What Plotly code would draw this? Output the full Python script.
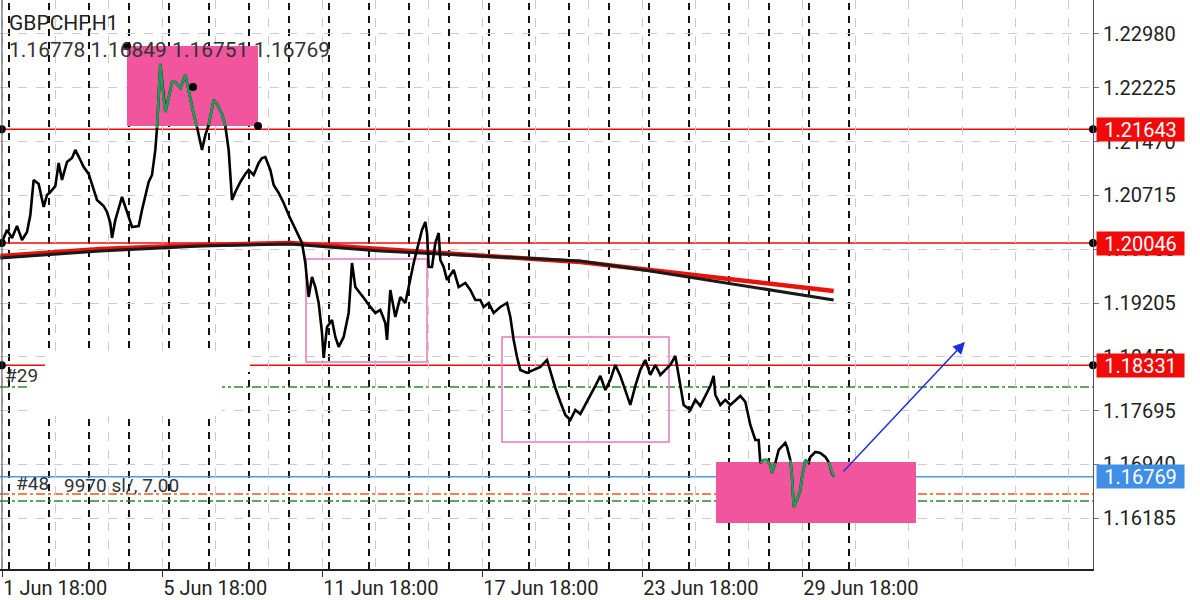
import plotly.graph_objects as go

# ---------------- data ----------------
symbol = "GBPCHF,H1"
ohlc_text = "1.16778 1.16849 1.16751 1.16769"

# (hour index of trading time since 1 Jun 00:00, close price)
price_path = [
    (18, 1.20062), (21, 1.20230), (24, 1.20118), (27, 1.20286), (30, 1.20090),
    (33, 1.20202), (35, 1.20441), (37, 1.20932), (40, 1.20876), (43, 1.20553),
    (45, 1.20721), (47, 1.20763), (50, 1.20847), (52, 1.21170), (54, 1.20932),
    (57, 1.21184), (60, 1.21240), (62, 1.21353), (65, 1.21212), (67, 1.21114),
    (70, 1.21016), (72, 1.20876), (75, 1.20651), (79, 1.20567), (81, 1.20483),
    (83, 1.20328), (84, 1.20118), (86, 1.20370), (90, 1.20693), (93, 1.20483),
    (96, 1.20272), (100, 1.20286), (102, 1.20511), (106, 1.20904), (108, 1.21002),
    (110, 1.21353), (111, 1.21661), (113, 1.22559), (115, 1.22054), (116, 1.21886),
    (119, 1.22194), (120, 1.22307), (122, 1.22307), (125, 1.22222), (128, 1.22405),
    (130, 1.22166), (133, 1.21858), (135, 1.21675), (137, 1.21423), (138, 1.21353),
    (140, 1.21563), (142, 1.21703), (145, 1.22054), (147, 1.21998), (150, 1.21858),
    (152, 1.21689), (154, 1.21353), (156, 1.20651), (158, 1.20763), (161, 1.20904),
    (164, 1.21016), (166, 1.21072), (169, 1.21002), (172, 1.21170), (174, 1.21240),
    (176, 1.21254), (179, 1.21072), (181, 1.20861), (184, 1.20749), (187, 1.20609),
    (190, 1.20441), (192, 1.20342), (195, 1.20202), (198, 1.20048), (200, 1.19767),
    (202, 1.19290), (204, 1.19571), (206, 1.19430), (208, 1.19206), (210, 1.18785),
    (211, 1.18434), (213, 1.18869), (216, 1.18967), (218, 1.18729), (220, 1.18589),
    (223, 1.18729), (226, 1.19066), (228, 1.19767), (230, 1.19430), (233, 1.19346),
    (236, 1.19248), (239, 1.19150), (242, 1.19066), (245, 1.19108), (248, 1.18925),
    (249, 1.18687), (251, 1.19388), (254, 1.19010), (257, 1.19290), (260, 1.19206),
    (263, 1.19571), (265, 1.19767), (268, 1.20048), (270, 1.20230), (272, 1.20342),
    (273, 1.20188), (274, 1.19711), (276, 1.19711), (278, 1.20048), (280, 1.20188),
    (281, 1.19809), (283, 1.19711), (285, 1.19529), (289, 1.19669), (292, 1.19430),
    (296, 1.19487), (299, 1.19388), (302, 1.19248), (305, 1.19248), (307, 1.19150),
    (310, 1.19206), (313, 1.19066), (317, 1.19150), (321, 1.19206), (323, 1.19010),
    (325, 1.18687), (327, 1.18448), (329, 1.18266), (333, 1.18224), (337, 1.18266),
    (341, 1.18308), (345, 1.18406), (348, 1.18168), (350, 1.18013), (353, 1.17817),
    (356, 1.17635), (359, 1.17564), (362, 1.17705), (365, 1.17649), (368, 1.17775),
    (371, 1.17901), (374, 1.18041), (377, 1.18182), (380, 1.17985), (383, 1.18126),
    (386, 1.18336), (389, 1.18182), (392, 1.17985), (395, 1.17775), (398, 1.18041),
    (401, 1.18266), (404, 1.18406), (407, 1.18196), (410, 1.18336), (413, 1.18196),
    (416, 1.18266), (419, 1.18336), (422, 1.18462), (424, 1.18196), (427, 1.17775),
    (431, 1.17705), (434, 1.17845), (437, 1.17761), (440, 1.17901), (443, 1.18041),
    (445, 1.18182), (446, 1.17915), (449, 1.17775), (452, 1.17845), (455, 1.17775),
    (458, 1.17845), (461, 1.17901), (464, 1.17817), (467, 1.17494), (470, 1.17284),
    (472, 1.17284), (473, 1.16961), (475, 1.17003), (477, 1.17003), (479, 1.16933),
    (480, 1.16821), (482, 1.16961), (484, 1.17144), (486, 1.17186), (488, 1.17242),
    (489, 1.17186), (491, 1.17003), (492, 1.16765), (493, 1.16344), (495, 1.16442),
    (497, 1.16582), (498, 1.16765), (500, 1.17003), (502, 1.16961), (503, 1.17045),
    (506, 1.17115), (509, 1.17101), (512, 1.17045), (514, 1.16975), (516, 1.16821),
    (517, 1.16769),
]
hours = [p[0] for p in price_path]
close = [p[1] for p in price_path]

ma_hours = [17, 77, 137, 191, 245, 305, 365, 407, 437, 473, 517]
ma_red = [1.19865, 1.19964, 1.20020, 1.20048, 1.19964, 1.19865, 1.19781, 1.19669, 1.19585, 1.19487, 1.19374]
ma_black = [1.19837, 1.19935, 1.20006, 1.20034, 1.19935, 1.19865, 1.19795, 1.19655, 1.19543, 1.19402, 1.19248]

red_levels = [1.21643, 1.20046, 1.18331]
bid_level = 1.16769
green_dashdot_levels = [1.18027, 1.16428]
orange_dashdot_levels = [1.16526]

# rectangles: (hour0, hour1, price0, price1)
filled_boxes = [(93, 171.6, 1.21689, 1.22812), (446.4, 566.4, 1.16119, 1.16975)]
outline_boxes = [(200.4, 273, 1.18378, 1.19823), (318, 418.2, 1.17256, 1.18729)]
anchor_dots = [(93, 1.22812), (132.6, 1.22236), (171.6, 1.21689)]
arrow_start = (522, 1.16821)
arrow_end = (595.8, 1.18659)

y_ticks = [1.16185, 1.16940, 1.17695, 1.18450, 1.19205, 1.19960, 1.20715, 1.21470, 1.22225, 1.22980]
x_tick_hours = [18, 114, 210, 306, 402, 498]
x_tick_labels = ["1 Jun 18:00", "5 Jun 18:00", "11 Jun 18:00", "17 Jun 18:00", "23 Jun 18:00", "29 Jun 18:00"]
x_minor_hours = [18 + 32 * k for k in range(21)]
day_separators = [22.2 + 24 * k for k in range(22)]

X_RANGE = [16.8, 672.6]
Y_RANGE = [1.15473, 1.23457]

FONT = "Roboto"
RED = "#f00a0a"
PINK = "#f0559e"
PINK_LINE = "#e878b8"
GREEN = "#1f9d55"
BLUE_LEVEL = "#4a9ae8"

fig = go.Figure()

# moving averages
fig.add_trace(go.Scatter(x=ma_hours, y=ma_red, mode="lines", line=dict(color="#e8140c", width=4.5), hoverinfo="skip"))
fig.add_trace(go.Scatter(x=ma_hours, y=ma_black, mode="lines", line=dict(color="#1a1a1a", width=3), hoverinfo="skip"))

# price line
fig.add_trace(go.Scatter(x=hours, y=close, mode="lines", line=dict(color="#000000", width=2.6), hoverinfo="skip"))

# green overlay where price is inside the filled boxes
green_top = [c if (filled_boxes[0][0] <= h <= filled_boxes[0][1] + 1 and c >= red_levels[0]) else None
             for h, c in zip(hours, close)]
green_bot = [c if (filled_boxes[1][0] <= h <= filled_boxes[1][1] and c <= filled_boxes[1][3] + 0.00035) else None
             for h, c in zip(hours, close)]
fig.add_trace(go.Scatter(x=hours, y=green_top, mode="lines", line=dict(color=GREEN, width=2.6), connectgaps=False, hoverinfo="skip"))
fig.add_trace(go.Scatter(x=hours, y=green_bot, mode="lines", line=dict(color=GREEN, width=2.6), connectgaps=False, hoverinfo="skip"))

# black anchor dots
dot_x = [X_RANGE[0] + 1.1] * 3 + [X_RANGE[1]] * 3 + [d[0] for d in anchor_dots]
dot_y = red_levels + red_levels + [d[1] for d in anchor_dots]
fig.add_trace(go.Scatter(x=dot_x, y=dot_y, mode="markers", marker=dict(color="black", size=8),
                         cliponaxis=False, hoverinfo="skip"))

shapes = []
for (x0, x1, y0, y1) in filled_boxes:
    shapes.append(dict(type="rect", xref="x", yref="y", x0=x0, x1=x1, y0=y0, y1=y1,
                       fillcolor=PINK, line=dict(width=0), layer="between"))
for (x0, x1, y0, y1) in outline_boxes:
    shapes.append(dict(type="rect", xref="x", yref="y", x0=x0, x1=x1, y0=y0, y1=y1,
                       fillcolor="rgba(0,0,0,0)", line=dict(color=PINK_LINE, width=1.5), layer="between"))
for xs in day_separators:
    shapes.append(dict(type="line", xref="x", yref="paper", x0=xs, x1=xs, y0=0, y1=1,
                       line=dict(color="#111111", width=2, dash="7px,6px"), layer="between"))
for lv in red_levels:
    shapes.append(dict(type="line", xref="paper", yref="y", x0=0, x1=1, y0=lv, y1=lv,
                       line=dict(color=RED, width=1.5), layer="between"))
shapes.append(dict(type="line", xref="paper", yref="y", x0=0, x1=1, y0=bid_level, y1=bid_level,
                   line=dict(color=BLUE_LEVEL, width=1.5), layer="between"))
for lv in green_dashdot_levels:
    shapes.append(dict(type="line", xref="paper", yref="y", x0=0, x1=1, y0=lv, y1=lv,
                       line=dict(color="#2a8a2a", width=1.5, dash="dashdot"), layer="between"))
for lv in orange_dashdot_levels:
    shapes.append(dict(type="line", xref="paper", yref="y", x0=0, x1=1, y0=lv, y1=lv,
                       line=dict(color="#e85a20", width=1.5, dash="dashdot"), layer="between"))
# left frame line
shapes.append(dict(type="line", xref="paper", yref="paper", x0=0.0018, x1=0.0018, y0=0, y1=1,
                   line=dict(color="#444444", width=1), layer="above"))
# erased (white) region in the screenshot
shapes.append(dict(type="rect", xref="paper", yref="paper", x0=45 / 1093, x1=250 / 1093,
                   y0=1 - 372 / 569, y1=1 - 352 / 569, fillcolor="white", line=dict(width=0), layer="above"))
shapes.append(dict(type="rect", xref="paper", yref="paper", x0=27 / 1093, x1=222 / 1093,
                   y0=1 - 416 / 569, y1=1 - 372 / 569, fillcolor="white", line=dict(width=0), layer="above"))

annotations = [
    dict(xref="paper", yref="paper", x=7 / 1093, y=1 - 23 / 569, xanchor="left", yanchor="middle",
         text=symbol, showarrow=False, font=dict(family=FONT, size=21, color="#222222")),
    dict(xref="paper", yref="paper", x=7 / 1093, y=1 - 50 / 569, xanchor="left", yanchor="middle",
         text=ohlc_text, showarrow=False, font=dict(family=FONT, size=21, color="#333333")),
    dict(xref="paper", yref="paper", x=3 / 1093, y=1 - 375 / 569, xanchor="left", yanchor="middle",
         text="#29", showarrow=False, font=dict(family=FONT, size=19, color="#333333")),
    dict(xref="paper", yref="paper", x=14 / 1093, y=1 - 483 / 569, xanchor="left", yanchor="middle",
         text="#48", showarrow=False, font=dict(family=FONT, size=19, color="#333333")),
    dict(xref="paper", yref="paper", x=62 / 1093, y=1 - 485 / 569, xanchor="left", yanchor="middle",
         text="9970 sl/, 7.00", showarrow=False, font=dict(family=FONT, size=19, color="#333333")),
    dict(x=arrow_end[0], y=arrow_end[1], ax=arrow_start[0], ay=arrow_start[1], xref="x", yref="y",
         axref="x", ayref="y", text="", showarrow=True, arrowhead=2, arrowsize=1.6, arrowwidth=1.5,
         arrowcolor="#2030d8"),
]
for lv in red_levels:
    annotations.append(dict(xref="paper", yref="y", x=1, y=lv, xanchor="left", yanchor="middle", xshift=3,
                            text=f"{lv:.5f}", showarrow=False, bgcolor=RED, width=87, height=23, borderpad=0,
                            font=dict(family=FONT, size=20, color="white")))
annotations.append(dict(xref="paper", yref="y", x=1, y=bid_level, xanchor="left", yanchor="middle", xshift=3,
                        text=f"{bid_level:.5f}", showarrow=False, bgcolor="#3f8fe6", width=87, height=23,
                        borderpad=0, font=dict(family=FONT, size=20, color="white")))

fig.update_layout(
    width=1200, height=600,
    margin=dict(l=0, r=107, t=0, b=31),
    paper_bgcolor="white", plot_bgcolor="white",
    showlegend=False, hovermode=False,
    shapes=shapes, annotations=annotations,
    font=dict(family=FONT, size=20, color="#222222"),
    xaxis=dict(
        range=X_RANGE, tickmode="array", tickvals=x_tick_hours, ticktext=x_tick_labels,
        ticks="outside", ticklen=6, tickcolor="#333333", ticklabelposition="outside right",
        showline=True, linecolor="#222222", linewidth=1.5,
        showgrid=True, gridcolor="#cccccc", griddash="dash", gridwidth=1,
        minor=dict(tickmode="array", tickvals=x_minor_hours, showgrid=True, gridcolor="#cccccc",
                   griddash="dash", gridwidth=1, ticks=""),
        zeroline=False, tickfont=dict(family=FONT, size=20, color="#222222"),
    ),
    yaxis=dict(
        range=Y_RANGE, side="right", tickmode="array", tickvals=y_ticks,
        ticktext=[f"{v:.5f}" for v in y_ticks],
        ticks="outside", ticklen=5, tickcolor="#777777",
        showline=True, linecolor="#555555", linewidth=1,
        showgrid=True, gridcolor="#cccccc", griddash="dash", gridwidth=1,
        zeroline=False, tickfont=dict(family=FONT, size=20, color="#222222"),
    ),
)

fig.write_html("out.html", config={"displayModeBar": False},
               post_script="document.body.style.margin='0';document.body.style.overflow='hidden';")
